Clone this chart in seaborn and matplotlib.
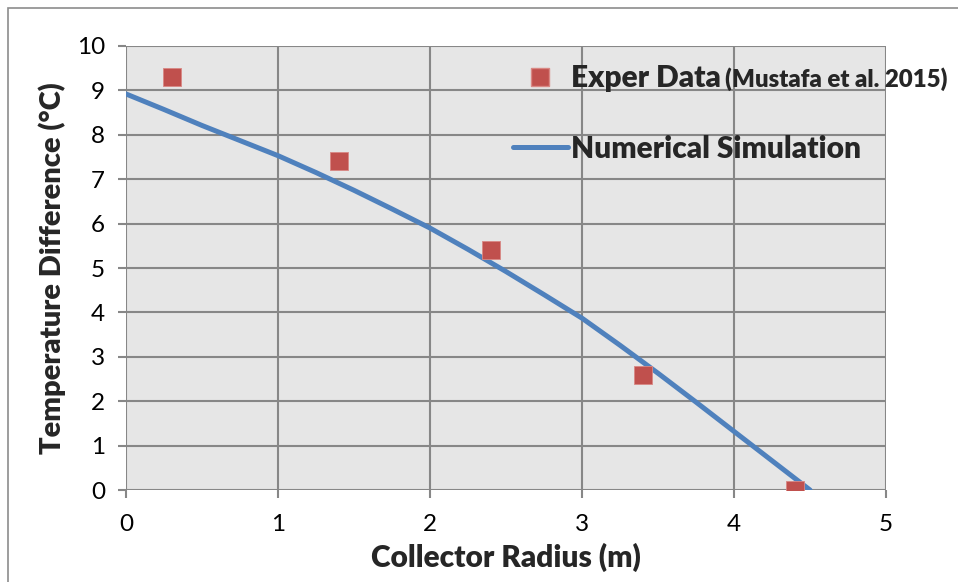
import matplotlib
matplotlib.use("Agg")
import matplotlib.pyplot as plt
from matplotlib.lines import Line2D
from matplotlib.patches import Rectangle
import seaborn as sns
import pandas as pd

# Measured temperature difference along the collector radius
radius_exp = [0.3, 1.4, 2.4, 3.4, 4.4]
dT_exp = [9.3, 7.4, 5.4, 2.6, 0.0]

# Numerical simulation profile
radius_sim = [0.0, 0.25, 0.5, 0.75, 1.0, 1.25, 1.5, 1.75, 2.0, 2.25,
              2.5, 2.75, 3.0, 3.25, 3.5, 3.75, 4.0, 4.25, 4.5]
dT_sim = [8.92, 8.57, 8.21, 7.87, 7.53, 7.15, 6.75, 6.33, 5.9, 5.42,
          4.92, 4.4, 3.87, 3.26, 2.63, 1.98, 1.32, 0.66, 0.0]

x_ticks = [0, 1, 2, 3, 4, 5]
y_ticks = list(range(0, 11))

exp_label = "Exper Data"
exp_source = "(Mustafa et al. 2015)"
sim_label = "Numerical Simulation"

RED = "#C0504D"
BLUE = "#4F81BD"
GRID = "#878787"

sns.set_theme(style="whitegrid")
plt.rcParams["font.family"] = ["Lato", "DejaVu Sans"]

exp_df = pd.DataFrame({"r": radius_exp, "dT": dT_exp})
sim_df = pd.DataFrame({"r": radius_sim, "dT": dT_sim})

fig = plt.figure(figsize=(9.58, 5.82), dpi=100)
ax = fig.add_axes([0.1315, 0.158, 0.7934, 0.763])
ax.set_facecolor("#E6E6E6")

# outer chart frame
fig.patches.append(Rectangle((8 / 958, -0.1), 1.2, 1 - 8 / 582 + 0.1,
                             transform=fig.transFigure, fill=False,
                             edgecolor="#8C8C8C", linewidth=1.2, zorder=0))

sns.lineplot(data=sim_df, x="r", y="dT", ax=ax, color=BLUE, linewidth=3.6,
             solid_capstyle="round", solid_joinstyle="round", zorder=3)
sns.scatterplot(data=exp_df, x="r", y="dT", ax=ax, color=RED, marker="s",
                s=160, linewidth=0.6, edgecolor="#D98884", zorder=4)

ax.set_xlim(0, 5)
ax.set_ylim(0, 10)
ax.set_xticks(x_ticks)
ax.set_yticks(y_ticks)
ax.grid(True, color=GRID, linewidth=1.5)
ax.set_axisbelow(True)
for side in ["top", "right", "left", "bottom"]:
    ax.spines[side].set_visible(False)
ax.tick_params(axis="both", which="major", length=6, width=1.5, color=GRID,
               labelsize=17.5, labelcolor="black", direction="out")
ax.tick_params(axis="y", pad=9)
ax.tick_params(axis="x", pad=11)
ax.tick_params(bottom=True, left=True)

ax.set_xlabel("Collector Radius (m)", fontsize=21.5, fontweight="heavy",
              labelpad=6)
ax.set_ylabel("Temperature Difference (°C)", fontsize=21, fontweight="heavy",
              labelpad=8)

handles = [
    Line2D([], [], linestyle="none", marker="s", markersize=12.7,
           markerfacecolor=RED, markeredgecolor="#D98884"),
    Line2D([], [], color=BLUE, linewidth=3.6, solid_capstyle="round"),
]
leg = ax.legend(handles, [exp_label, sim_label], loc="upper left",
                bbox_to_anchor=(0.509, 0.959), frameon=False,
                prop={"size": 21.5, "weight": "heavy"}, handlelength=1.85,
                handletextpad=0.1, labelspacing=1.42, borderaxespad=0,
                borderpad=0)
exp_text = leg.get_texts()[0]
ax.annotate(exp_source, xy=(1, 0), xycoords=exp_text,
            xytext=(3, 1), textcoords="offset points", zorder=6,
            fontsize=17.3, fontweight="heavy", va="bottom", ha="left")

fig.savefig("out.png", dpi=100)
